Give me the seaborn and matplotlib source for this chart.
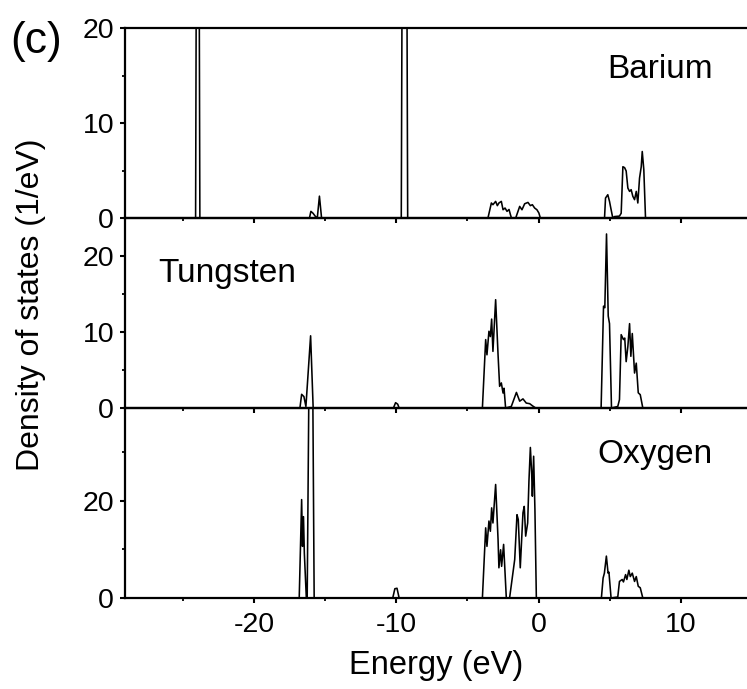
import numpy as np
import pandas as pd
import matplotlib
matplotlib.use('Agg')
import matplotlib.pyplot as plt
from matplotlib.ticker import MultipleLocator
import seaborn as sns

# projected DOS, energy in eV, DOS in 1/eV
ba_energy = [-30.0, -24.1, -23.95, -23.8, -16.1, -16.0, -15.85, -15.7, -15.55, -15.4, -15.25,
             -9.65, -9.42, -9.2,
             -3.56, -3.32, -3.21, -3.02, -2.90, -2.79, -2.62, -2.50, -2.36, -2.22, -2.08, -1.98, -1.91,
             -1.61, -1.33, -1.17, -0.98, -0.75, -0.58, -0.44, -0.28, -0.12, 0.02, 0.12,
             4.63, 4.70, 4.86, 4.98, 5.09, 5.21, 5.33, 5.68, 5.80, 5.92, 6.04, 6.15, 6.27, 6.39,
             6.50, 6.62, 6.74, 6.86, 6.97, 7.09, 7.21, 7.28, 7.39, 7.51, 15.0]
ba_dos = [0.0, 0.0, 80.0, 0.0, 0.0, 0.7, 0.5, 0.2, 0.0, 2.3, 0.0,
          0.0, 100.0, 0.0,
          0.0, 1.58, 1.4, 1.75, 1.3, 1.58, 1.75, 0.87, 1.05, 0.7, 0.9, 0.35, 0.0,
          0.0, 1.22, 0.87, 1.5, 1.64, 1.3, 1.4, 1.05, 0.87, 0.52, 0.0,
          0.0, 2.1, 2.45, 1.75, 0.9, 0.0, 0.15, 0.2, 0.5, 5.4, 5.3, 4.95, 3.15, 2.8,
          2.98, 2.28, 1.93, 2.8, 1.58, 4.2, 5.4, 7.0, 5.1, 0.0, 0.0]

w_energy = [-30.0, -16.77, -16.65, -16.49, -16.35, -16.02, -15.84,
            -10.2, -10.05, -9.9, -9.8,
            -3.95, -3.72, -3.63, -3.49, -3.39, -3.30, -3.21, -3.02, -2.85, -2.74, -2.62, -2.50,
            -2.43, -2.32, -1.92, -1.56, -1.33, -1.10, -0.87, -0.63, -0.44, -0.21,
            4.39, 4.56, 4.65, 4.77, 4.89, 4.98, 5.12, 5.56, 5.68, 5.80, 5.96, 6.05, 6.15, 6.27,
            6.39, 6.48, 6.58, 6.74, 6.86, 7.00, 7.14, 7.32, 15.0]
w_dos = [0.0, 0.0, 1.8, 1.5, 0.2, 9.5, 0.0,
         0.0, 0.7, 0.5, 0.0,
         0.0, 9.0, 7.0, 10.1, 9.4, 11.7, 7.45, 14.25, 7.0, 2.85, 3.3, 1.97,
         2.6, 0.0, 0.2, 2.05, 0.9, 1.2, 0.65, 0.57, 0.3, 0.0,
         0.0, 13.4, 13.2, 22.9, 12.1, 11.1, 0.0, 0.2, 1.1, 9.65, 9.0, 9.2, 6.1, 8.1,
         11.1, 6.8, 9.8, 4.6, 5.9, 2.0, 1.75, 0.0, 0.0]

o_energy = [-30.0, -16.82, -16.65, -16.59, -16.52, -16.46, -16.32, -16.26, -15.99, -15.77,
            -10.25, -10.1, -9.95, -9.8,
            -3.95, -3.72, -3.63, -3.49, -3.39, -3.30, -3.21, -3.02, -2.85, -2.79, -2.67, -2.60,
            -2.46, -2.37, -2.27, -2.04, -1.68, -1.52, -1.43, -1.29, -1.10, -1.01, -0.91, -0.77,
            -0.68, -0.58, -0.49, -0.44, -0.35, -0.26, -0.16,
            4.41, 4.53, 4.62, 4.76, 4.88, 4.94, 5.09, 5.56, 5.68, 5.87, 5.96, 6.11, 6.20, 6.34,
            6.44, 6.58, 6.74, 6.86, 7.00, 7.14, 7.32, 15.0]
o_dos = [0.0, 0.0, 20.2, 10.6, 16.7, 9.2, 0.0, 0.0, 97.0, 0.0,
         0.0, 1.9, 2.0, 0.0,
         0.0, 14.4, 10.6, 15.8, 13.7, 18.5, 15.4, 23.3, 12.0, 6.2, 9.9, 6.5,
         11.0, 5.8, 0.0, 0.0, 7.9, 17.1, 16.1, 6.2, 17.5, 18.8, 12.7, 15.4,
         24.0, 30.9, 25.7, 20.9, 29.1, 18.2, 0.0,
         0.0, 4.1, 5.1, 8.6, 5.1, 5.3, 0.0, 0.2, 3.4, 3.8, 3.3, 4.8, 3.8, 5.7,
         4.4, 5.1, 3.4, 4.4, 2.4, 2.1, 0.0, 0.0]

elements = ['Barium', 'Tungsten', 'Oxygen']
y_tops = [20, 25, 39]
y_major = [10, 10, 20]

df = pd.concat([
    pd.DataFrame({'energy': ba_energy, 'dos': ba_dos, 'element': 'Barium'}),
    pd.DataFrame({'energy': w_energy, 'dos': w_dos, 'element': 'Tungsten'}),
    pd.DataFrame({'energy': o_energy, 'dos': o_dos, 'element': 'Oxygen'}),
])

sns.set_style('ticks')
plt.rcParams.update({
    'font.family': ['Liberation Sans', 'DejaVu Sans'],
    'axes.unicode_minus': False,
    'text.color': 'black',
    'axes.labelcolor': 'black',
    'axes.edgecolor': 'black',
    'xtick.color': 'black',
    'ytick.color': 'black',
    'xtick.labelsize': 20.5,
    'ytick.labelsize': 20.5,
    'axes.linewidth': 1.6,
    'xtick.major.width': 1.5,
    'ytick.major.width': 1.5,
    'xtick.minor.width': 1.3,
    'ytick.minor.width': 1.3,
    'xtick.major.size': 3.8,
    'ytick.major.size': 3.8,
    'xtick.minor.size': 2.4,
    'ytick.minor.size': 2.4,
    'xtick.direction': 'out',
    'ytick.direction': 'out',
})

W, H = 747, 689
fig = plt.figure(figsize=(W / 100, H / 100), dpi=100)
left = 125 / W
panel_h = 190 / H
top = 1 - 28 / H

axes = []
for i, el in enumerate(elements):
    ax = fig.add_axes([left, top - (i + 1) * panel_h, 1 - left, panel_h])
    ax.patch.set_alpha(0)
    sub = df[df['element'] == el]
    sns.lineplot(data=sub, x='energy', y='dos', ax=ax, color='black', lw=1.15,
                 estimator=None, sort=False)
    ax.set_xlim(-29.06, 14.64)
    ax.set_ylim(0, y_tops[i])
    ax.xaxis.set_major_locator(MultipleLocator(10))
    ax.xaxis.set_minor_locator(MultipleLocator(5))
    ax.yaxis.set_major_locator(MultipleLocator(y_major[i]))
    ax.yaxis.set_minor_locator(MultipleLocator(y_major[i] / 2))
    ax.tick_params(axis='both', which='both', pad=4)
    ax.spines['right'].set_visible(False)
    if i < 2:
        ax.tick_params(axis='x', which='both', labelbottom=False)
    ax.set_xlabel('')
    ax.set_ylabel('')
    axes.append(ax)

axes[2].tick_params(axis='x', which='major', pad=6)
axes[0].text(12.25, 14.7, 'Barium', ha='right', va='baseline', fontsize=24)
axes[1].text(-26.74, 16.6, 'Tungsten', ha='left', va='baseline', fontsize=24)
axes[2].text(12.25, 27.8, 'Oxygen', ha='right', va='baseline', fontsize=24)

axes[2].set_xlabel('Energy (eV)', fontsize=23.5, labelpad=9)
fig.text(31 / W, 1 - 305 / H, 'Density of states (1/eV)', rotation=90,
         ha='center', va='center', fontsize=23)
fig.text(36 / W, 1 - 42 / H, '(c)', ha='center', va='center', fontsize=32)

fig.savefig('out.png', dpi=100)
